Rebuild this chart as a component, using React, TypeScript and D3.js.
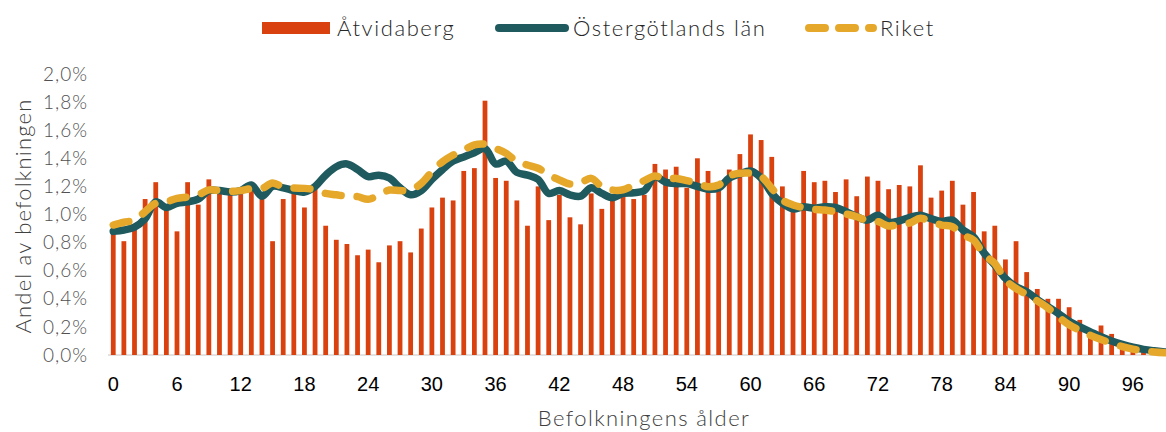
import * as d3 from 'd3';
import React, { useEffect, useRef } from 'react';

const ages: number[] = d3.range(0, 100);

const atvidaberg: number[] = [
  0.89, 0.81, 0.9, 1.11, 1.23, 1.06, 0.88, 1.23, 1.07, 1.25,
  1.16, 1.15, 1.15, 1.19, 1.13, 0.81, 1.11, 1.16, 1.05, 1.19,
  0.92, 0.82, 0.79, 0.71, 0.75, 0.66, 0.78, 0.81, 0.73, 0.9,
  1.05, 1.12, 1.1, 1.31, 1.33, 1.81, 1.26, 1.24, 1.1, 0.92,
  1.2, 0.96, 1.14, 0.98, 0.93, 1.15, 1.04, 1.12, 1.13, 1.11,
  1.14, 1.36, 1.32, 1.34, 1.19, 1.4, 1.31, 1.17, 1.32, 1.43,
  1.57, 1.53, 1.41, 1.2, 1.06, 1.31, 1.23, 1.24, 1.16, 1.25,
  1.13, 1.27, 1.24, 1.18, 1.21, 1.2, 1.35, 1.12, 1.17, 1.24,
  1.07, 1.16, 0.88, 0.92, 0.68, 0.81, 0.59, 0.47, 0.4, 0.4,
  0.34, 0.25, 0.18, 0.21, 0.15, 0.08, 0.05, 0.03, 0.02, 0.01,
];

const ostergotland: number[] = [
  0.88, 0.89, 0.91, 0.97, 1.09, 1.05, 1.08, 1.09, 1.11, 1.17,
  1.17, 1.16, 1.17, 1.21, 1.13, 1.2, 1.19, 1.17, 1.16, 1.2,
  1.28, 1.34, 1.36, 1.32, 1.27, 1.28, 1.26, 1.19, 1.14, 1.17,
  1.25, 1.32, 1.38, 1.41, 1.44, 1.47, 1.36, 1.38, 1.3, 1.28,
  1.25, 1.15, 1.17, 1.14, 1.13, 1.19, 1.15, 1.12, 1.15, 1.155,
  1.17, 1.27, 1.23, 1.22, 1.22, 1.2, 1.18, 1.19, 1.26, 1.29,
  1.31, 1.26, 1.15, 1.08, 1.04, 1.055, 1.045, 1.055, 1.05, 1.02,
  0.985, 0.96, 0.995, 0.945, 0.955, 0.98, 0.995, 0.97, 0.95, 0.96,
  0.89, 0.84, 0.725, 0.64, 0.545, 0.486, 0.451, 0.395, 0.345, 0.295,
  0.24, 0.2, 0.165, 0.13, 0.1, 0.075, 0.055, 0.04, 0.03, 0.022,
];

const riket: number[] = [
  0.925, 0.945, 0.96, 1.02, 1.08, 1.09, 1.115, 1.125, 1.14, 1.175,
  1.17, 1.165, 1.17, 1.185, 1.185, 1.225, 1.195, 1.188, 1.186, 1.176,
  1.15, 1.14, 1.13, 1.127, 1.108, 1.14, 1.174, 1.17, 1.174, 1.222,
  1.305, 1.376, 1.423, 1.459, 1.495, 1.5, 1.47, 1.435, 1.376, 1.352,
  1.329, 1.281, 1.246, 1.217, 1.226, 1.257, 1.198, 1.174, 1.176, 1.21,
  1.241, 1.274, 1.25, 1.257, 1.241, 1.222, 1.198, 1.21, 1.274, 1.293,
  1.293, 1.27, 1.186, 1.103, 1.068, 1.048, 1.037, 1.032, 1.02, 1.004,
  0.984, 0.956, 0.949, 0.918, 0.932, 0.94, 0.973, 0.949, 0.925, 0.913,
  0.854, 0.818, 0.712, 0.652, 0.534, 0.474, 0.43, 0.385, 0.335, 0.27,
  0.215, 0.175, 0.14, 0.11, 0.085, 0.06, 0.042, 0.03, 0.022, 0.016,
];

const yTicks: number[] = [0, 0.2, 0.4, 0.6, 0.8, 1.0, 1.2, 1.4, 1.6, 1.8, 2.0];
const xTicks: number[] = d3.range(0, 100, 6);

const legendItems = ['Åtvidaberg', 'Östergötlands län', 'Riket'];

const ORANGE = '#D9410E';
const TEAL = '#1F5A5F';
const GOLD = '#E6A82A';
const lightFont = 'Lato, "Open Sans", sans-serif';

const App: React.FC = () => {
  const svgRef = useRef<SVGSVGElement | null>(null);

  useEffect(() => {
    if (!svgRef.current) return;
    const width = 1166;
    const height = 432;
    const svg = d3.select(svgRef.current);
    svg.selectAll('*').remove();

    const x = d3.scaleBand<number>().domain(ages).range([108, 1170]).paddingInner(0.55).paddingOuter(0.27);
    const y = d3.scaleLinear().domain([0, 2]).range([355, 74]);
    const cx = (a: number) => (x(a) as number) + x.bandwidth() / 2;

    // y axis labels
    svg.append('g')
      .selectAll('text')
      .data(yTicks)
      .enter()
      .append('text')
      .attr('x', 88)
      .attr('y', (d) => y(d))
      .attr('dy', '0.35em')
      .attr('text-anchor', 'end')
      .style('font-family', lightFont)
      .style('font-weight', 300)
      .style('font-size', '19px')
      .style('letter-spacing', '1px')
      .style('fill', '#505050')
      .text((d) => d.toFixed(1).replace('.', ',') + '%');

    // baseline
    svg.append('line')
      .attr('x1', 108).attr('x2', width)
      .attr('y1', y(0)).attr('y2', y(0))
      .attr('stroke', '#d9d9d9').attr('stroke-width', 1.5);

    // bars
    svg.append('g')
      .selectAll('rect')
      .data(atvidaberg)
      .enter()
      .append('rect')
      .attr('x', (_, i) => x(ages[i]) as number)
      .attr('width', x.bandwidth())
      .attr('y', (d) => y(d))
      .attr('height', (d) => y(0) - y(d))
      .attr('fill', ORANGE);

    const line = d3.line<number>()
      .x((_, i) => cx(ages[i]))
      .y((d) => y(d))
      .curve(d3.curveCatmullRom.alpha(0.5));

    svg.append('path')
      .attr('d', line(ostergotland))
      .attr('fill', 'none')
      .attr('stroke', TEAL)
      .attr('stroke-width', 7.5)
      .attr('stroke-linejoin', 'round')
      .attr('stroke-linecap', 'round');

    svg.append('path')
      .attr('d', line(riket))
      .attr('fill', 'none')
      .attr('stroke', GOLD)
      .attr('stroke-width', 7.5)
      .attr('stroke-dasharray', '16 16')
      .attr('stroke-linecap', 'round');

    // x tick labels
    svg.append('g')
      .selectAll('text')
      .data(xTicks)
      .enter()
      .append('text')
      .attr('x', (d) => cx(d))
      .attr('y', 391)
      .attr('text-anchor', 'middle')
      .style('font-family', '"Liberation Sans", Arial, sans-serif')
      .style('font-size', '20px')
      .style('fill', '#000')
      .text((d) => String(d));

    // axis titles
    svg.append('text')
      .attr('x', 644)
      .attr('y', 426)
      .attr('text-anchor', 'middle')
      .style('font-family', lightFont)
      .style('font-weight', 300)
      .style('font-size', '22px')
      .style('letter-spacing', '1.4px')
      .style('fill', '#404040')
      .text('Befolkningens ålder');

    svg.append('text')
      .attr('transform', 'translate(31, 216) rotate(-90)')
      .attr('text-anchor', 'middle')
      .style('font-family', lightFont)
      .style('font-weight', 300)
      .style('font-size', '22px')
      .style('letter-spacing', '1.2px')
      .style('fill', '#404040')
      .text('Andel av befolkningen');

    // legend
    const lg = svg.append('g');
    lg.append('rect').attr('x', 262).attr('y', 22).attr('width', 68).attr('height', 12).attr('fill', ORANGE);
    lg.append('line')
      .attr('x1', 499).attr('x2', 565).attr('y1', 28).attr('y2', 28)
      .attr('stroke', TEAL).attr('stroke-width', 8).attr('stroke-linecap', 'round');
    lg.append('line')
      .attr('x1', 809).attr('x2', 873).attr('y1', 28).attr('y2', 28)
      .attr('stroke', GOLD).attr('stroke-width', 8).attr('stroke-linecap', 'round')
      .attr('stroke-dasharray', '16 14');
    const lx = [337, 573, 880];
    lg.selectAll('text.lt')
      .data(legendItems)
      .enter()
      .append('text')
      .attr('class', 'lt')
      .attr('x', (_, i) => lx[i])
      .attr('y', 36)
      .style('font-family', lightFont)
      .style('font-weight', 300)
      .style('font-size', '22px')
      .style('letter-spacing', '1.6px')
      .style('fill', '#262626')
      .text((d) => d);

    svg.attr('width', width).attr('height', height);
  }, []);

  return (
    <svg ref={svgRef} style={{ display: 'block', position: 'absolute', left: 0, top: 0 }} width={1166} height={432} />
  );
};

export default App;
